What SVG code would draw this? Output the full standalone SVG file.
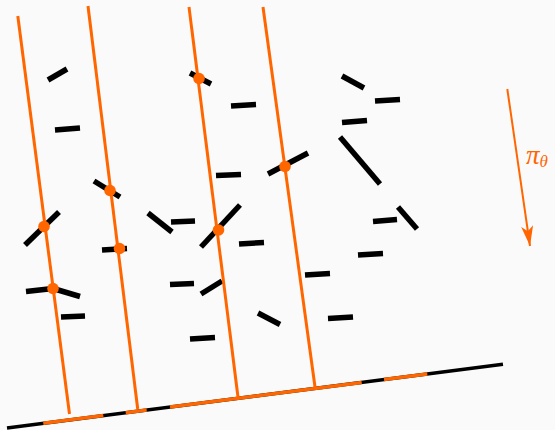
<svg xmlns="http://www.w3.org/2000/svg" width="555" height="430" viewBox="0 0 555 430">
<style>
.seg{stroke:#000;stroke-width:5.5;stroke-linecap:butt;fill:none}
.ray{stroke:#ff6600;stroke-width:3;fill:none}
.dot{fill:#ff6600}
.base{stroke:#000;stroke-width:3.5;fill:none}
.proj{stroke:#ff6600;stroke-width:3.5;fill:none}
</style>
<defs>
<marker id="ah" viewBox="0 0 20 12" refX="20" refY="6" markerWidth="20" markerHeight="12" markerUnits="userSpaceOnUse" orient="auto">
<path d="M20,6 L0,0 L5,6 L0,12 Z" fill="#ff6600"/>
</marker>
</defs>
<rect width="555" height="430" fill="#fafafa"/>
<g id="segments">
<line class="seg" x1="48" y1="80" x2="67" y2="69"/>
<line class="seg" x1="55" y1="130" x2="80" y2="128"/>
<line class="seg" x1="94" y1="181" x2="120" y2="197"/>
<line class="seg" x1="190" y1="73" x2="211" y2="84"/>
<line class="seg" x1="231" y1="106" x2="256" y2="104.5"/>
<line class="seg" x1="342" y1="76" x2="364" y2="88"/>
<line class="seg" x1="375" y1="101" x2="400" y2="99.5"/>
<line class="seg" x1="342" y1="122.5" x2="367" y2="120.5"/>
<line class="seg" x1="340" y1="137" x2="380" y2="184"/>
<line class="seg" x1="216" y1="175.5" x2="241" y2="174.5"/>
<line class="seg" x1="268" y1="174" x2="308" y2="153"/>
<line class="seg" x1="148" y1="213" x2="172" y2="232"/>
<line class="seg" x1="171" y1="222" x2="195" y2="221"/>
<line class="seg" x1="201" y1="247" x2="240" y2="205"/>
<line class="seg" x1="25" y1="245" x2="59" y2="212"/>
<line class="seg" x1="102" y1="250" x2="127" y2="248.5"/>
<line class="seg" x1="239" y1="244" x2="264" y2="242.5"/>
<line class="seg" x1="373" y1="221.5" x2="397" y2="219.5"/>
<line class="seg" x1="398" y1="207" x2="417" y2="229"/>
<line class="seg" x1="358" y1="255" x2="383" y2="253.5"/>
<line class="seg" x1="305" y1="275" x2="330" y2="273.5"/>
<line class="seg" x1="170" y1="284.5" x2="194" y2="283.5"/>
<line class="seg" x1="201" y1="294" x2="222" y2="281"/>
<line class="seg" x1="26" y1="291.5" x2="53" y2="288.5"/>
<line class="seg" x1="53" y1="288.5" x2="80" y2="296.5"/>
<line class="seg" x1="61" y1="317" x2="85" y2="316"/>
<line class="seg" x1="258" y1="313" x2="280" y2="324.5"/>
<line class="seg" x1="328" y1="318.5" x2="353" y2="317"/>
<line class="seg" x1="190" y1="339" x2="215" y2="337.5"/>
</g>
<g id="baseline">
<line class="base" x1="7" y1="428" x2="503" y2="364.3"/>
<line class="proj" x1="43.3" y1="423.3" x2="103.3" y2="415.6"/>
<line class="proj" x1="125.7" y1="412.7" x2="146.7" y2="410"/>
<line class="proj" x1="170" y1="407" x2="361.7" y2="382.4"/>
<line class="proj" x1="384" y1="379.5" x2="427.3" y2="374"/>
</g>
<g id="rays">
<line class="ray" x1="17.8" y1="16" x2="69.5" y2="414"/>
<line class="ray" x1="88" y1="6" x2="137.7" y2="409"/>
<line class="ray" x1="189" y1="7" x2="238" y2="397"/>
<line class="ray" x1="263" y1="7" x2="315" y2="387"/>
</g>
<g id="dots">
<circle class="dot" cx="110" cy="190.5" r="5.8"/>
<circle class="dot" cx="199" cy="78.5" r="5.8"/>
<circle class="dot" cx="285" cy="166.5" r="5.8"/>
<circle class="dot" cx="44" cy="226.5" r="5.8"/>
<circle class="dot" cx="119.5" cy="248.5" r="5.8"/>
<circle class="dot" cx="53" cy="288.5" r="5.8"/>
<circle class="dot" cx="218.5" cy="230" r="5.8"/>
</g>
<g id="direction">
<line x1="507.3" y1="89" x2="530" y2="246" stroke="#ff6600" stroke-width="2" marker-end="url(#ah)"/>
<text x="526" y="163.5" font-family="'Liberation Serif', serif" font-style="italic" font-size="27" fill="#ff6600">π<tspan font-size="17" dy="3.5">θ</tspan></text>
</g>
</svg>
